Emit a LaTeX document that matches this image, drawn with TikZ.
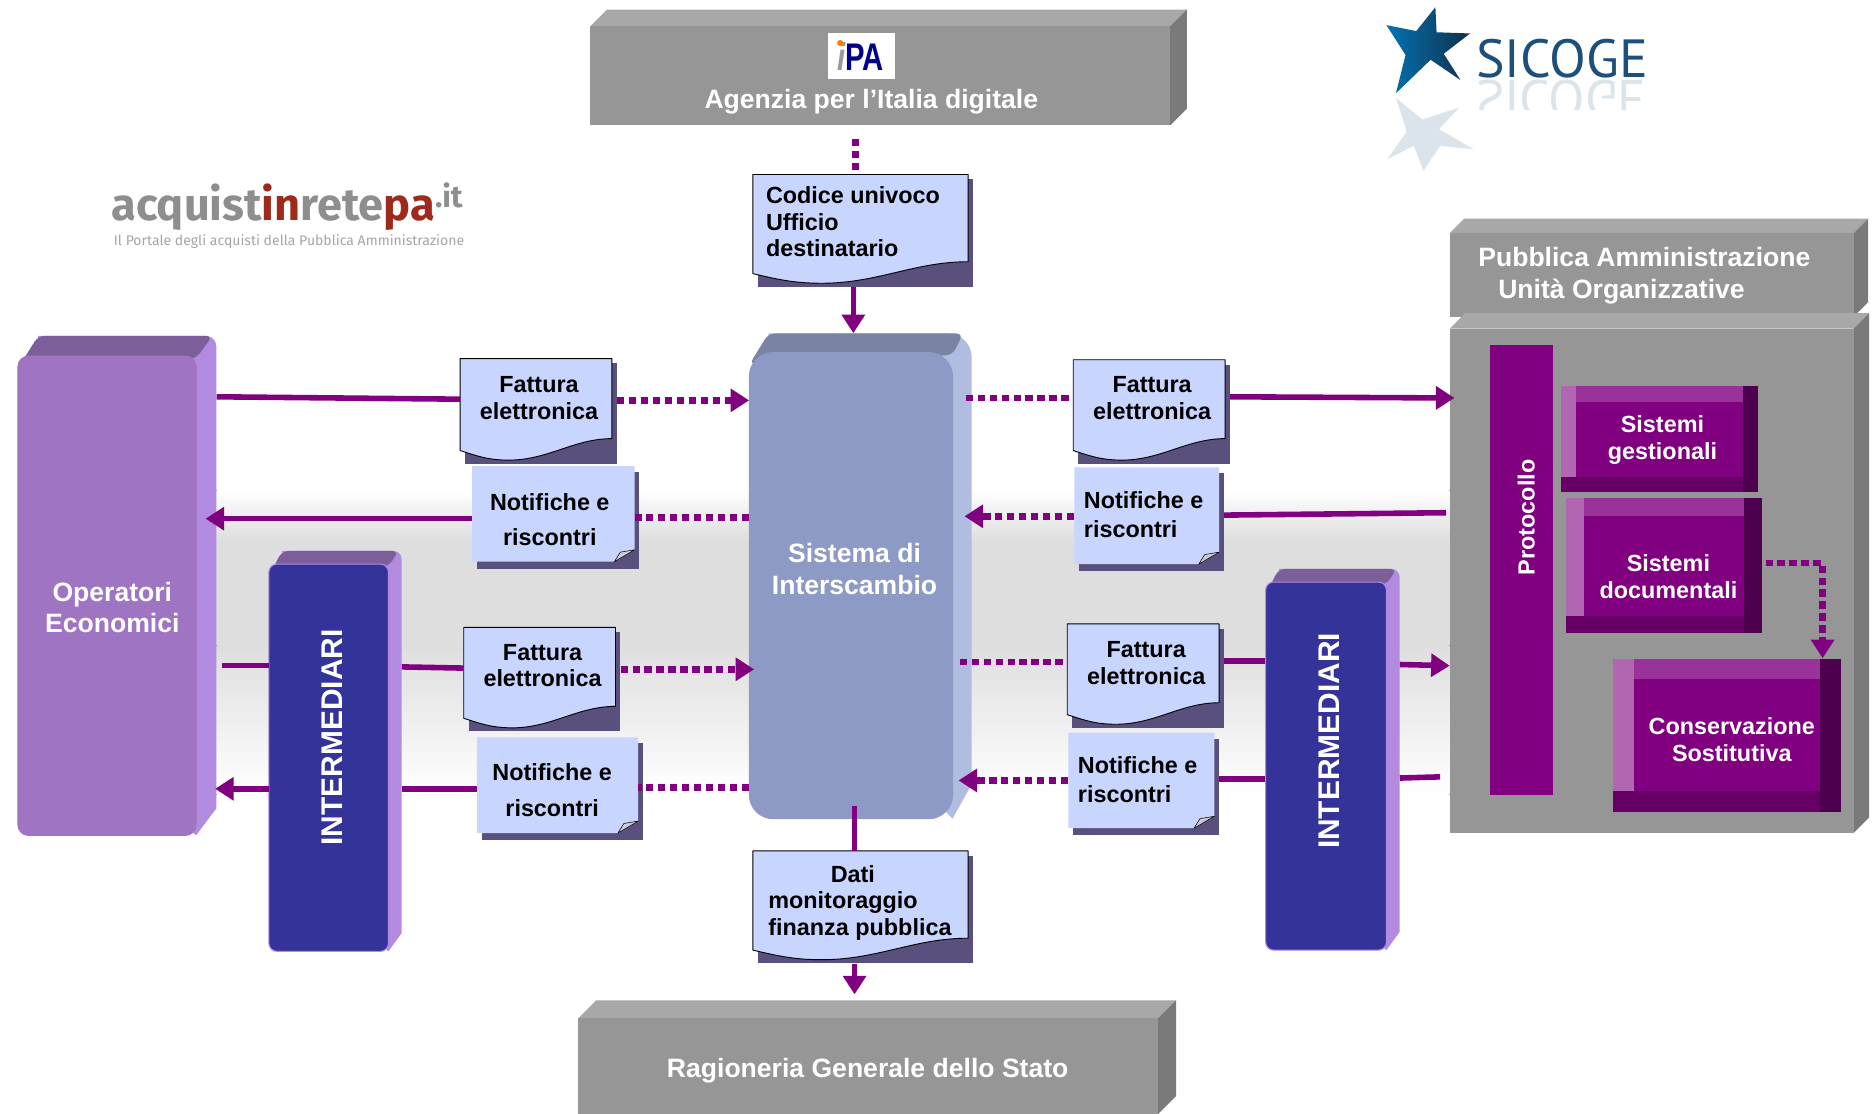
\documentclass[tikz,border=0pt]{standalone}
\usepackage{fontspec}
\setmainfont{Liberation Sans}
\newfontfamily\logofont{Fira Sans}
\newfontfamily\sicogefont{PT Sans}
\usetikzlibrary{arrows.meta}
\usetikzlibrary{fit}

\definecolor{flowpurple}{HTML}{800080}
\definecolor{sheetblue}{HTML}{C8D6FF}
\definecolor{sheetshadow}{HTML}{5A507D}
\definecolor{greyfront}{HTML}{969696}
\definecolor{greytop}{HTML}{A8A8A8}
\definecolor{greyside}{HTML}{7A7A7A}
\definecolor{lilacfront}{HTML}{9F74C3}
\definecolor{lilactop}{HTML}{7C5F9A}
\definecolor{lilacside}{HTML}{B28AE0}
\definecolor{navyfront}{HTML}{333399}
\definecolor{navytop}{HTML}{7C5F9A}
\definecolor{navyside}{HTML}{B28AE0}
\definecolor{sysfront}{HTML}{8C9AC5}
\definecolor{systop}{HTML}{7A83A4}
\definecolor{sysside}{HTML}{B0BDE0}
\definecolor{tierleft}{HTML}{B066B0}
\definecolor{tiertop}{HTML}{993399}
\definecolor{tierright}{HTML}{4D004D}
\definecolor{tierbottom}{HTML}{660066}
\definecolor{logogrey}{HTML}{8E8E8E}
\definecolor{logored}{HTML}{9E2A1C}
\definecolor{sicogeblue}{HTML}{1D4F7A}
\definecolor{sicogeecho}{HTML}{DAE4EA}

\tikzset{
  flow/.style={draw=flowpurple,line width=4.2pt},
  flowdot/.style={flow,line width=5pt,dash pattern=on 5.5pt off 3.5pt},
  whitebig/.style={text=white,align=center,font=\fontsize{20}{23.7}\selectfont\bfseries},
  whitesmall/.style={text=white,align=center,font=\fontsize{17.6}{20.5}\selectfont\bfseries},
  sheettext/.style={text=black,align=center,font=\fontsize{17.6}{20}\selectfont\bfseries},
  frame/.style={inner sep=0pt}
}

% flat block with top and side faces
\newcommand{\greyblock}[6]{
  \fill[greytop] (#2,#3) -- (#2+#6,#3-#6) -- (#4+#6,#3-#6) -- (#4,#3) -- cycle;
  \fill[greyside] (#4,#3) -- (#4+#6,#3-#6) -- (#4+#6,#5-#6) -- (#4,#5) -- cycle;
  \fill[greyfront] (#2,#3) rectangle (#4,#5);
  \node[frame,fit={(#2,#3) (#4,#5)}] (#1) {};
}
% rounded block, #7 colour family, #8 corner radius, #9 front outline
\newcommand{\softblock}[9]{
  \fill[#7side] (#2+#6,#3-#6) [rounded corners=#8pt] -- (#4+#6,#3-#6) [sharp corners] -- (#4+#6,{#5-#6-0.7*#8}) -- (#4,#5) -- (#4-10,#5-10) -- (#2+#6,#3) -- cycle;
  \fill[#7top,rounded corners=5pt] (#2,#3+10) -- (#2+#6,#3-#6) -- ({#4+#6-0.4*#8},#3-#6) -- (#4,#3+2) -- (#2+10,#3+10) -- cycle;
  \filldraw[#7front,draw=#9,line width=0.8pt,rounded corners=#8pt] (#2,#3) rectangle (#4,#5);
  \node[frame,fit={(#2,#3-#6) (#4+#6,#5)}] (#1) {};
}
% bevelled purple panel
\newcommand{\tierblock}[6]{
  \fill[flowpurple] (#2,#3) rectangle (#4,#5);
  \fill[tierleft] (#2,#3) rectangle (#2+#6,#5-#6);
  \fill[tiertop] (#2+#6,#3) rectangle (#4-#6,#3+#6);
  \fill[tierbottom] (#2,#5-#6) rectangle (#4-#6,#5);
  \fill[tierright] (#4-#6,#3) rectangle (#4,#5);
  \node[frame,fit={(#2,#3) (#4,#5)}] (#1) {};
}
% sheet with a wavy lower edge
\newcommand{\wavesheet}[5]{
  \fill[sheetshadow] (#2+4,#3+4) rectangle (#4+4,#5+11);
  \draw[black,line width=0.7pt,fill=sheetblue] (#2,#3) -- (#4,#3) -- (#4,#5-10)
    .. controls ({#4-0.25*(#4-#2)},#5-10) and ({#4-0.42*(#4-#2)},#5+8) .. ({#2+0.32*(#4-#2)},#5+8)
    .. controls ({#2+0.18*(#4-#2)},#5+8) and ({#2+0.1*(#4-#2)},#5+4) .. (#2,#5) -- cycle;
  \node[frame,fit={(#2,#3) (#4,#5+11)}] (#1) {};
}
% sheet with a folded corner
\newcommand{\foldsheet}[5]{
  \fill[sheetshadow] (#2+4,#3+5) rectangle (#4+4,#5+6);
  \fill[sheetblue] (#2,#3) -- (#4,#3) -- (#4,#5-10) -- (#4-17,#5) -- (#2,#5) -- cycle;
  \draw[black,line width=0.4pt,fill=sheetshadow!30!white] (#4,#5-10) -- (#4-12,#5-8) -- (#4-17,#5) -- cycle;
  \node[frame,fit={(#2,#3) (#4,#5+6)}] (#1) {};
}

\begin{document}
\begin{tikzpicture}[line join=round,>={Triangle[length=14pt,width=17pt]},x=0.9pt,y=-0.9pt]
\useasboundingbox (0,0) rectangle (1568,932);

% band behind the flows
\fill[top color=white,bottom color=black!13] (181,410) rectangle (1213,452);
\fill[black!13] (181,452) rectangle (1213,540);
\fill[top color=black!13,bottom color=white] (181,540) rectangle (1213,665);

% logos
\node[frame,anchor=west,text=logogrey,font=\logofont\fontsize{34}{34}\selectfont\bfseries] (portalName) at (93,173)
  {acquist{\color{logored}in}rete{\color{logored}pa}\raisebox{10pt}{\fontsize{23}{23}\selectfont.it}};
\node[frame,anchor=west,text=logogrey!80,font=\logofont\fontsize{10.55}{12}\selectfont] (portalTag) at (95,202)
  {Il Portale degli acquisti della Pubblica Amministrazione};
\fill[sicogeecho] (1221,90) -- (1204,108) -- (1233,125) -- (1205,122) -- (1191,143) -- (1183,122) -- (1161,133) -- (1177,110) -- (1168,82) -- (1190,100) -- cycle;
\shade[left color=blue!35!cyan!70!black,right color=sicogeblue!60!black] (1201,6) -- (1202,27) -- (1230,28) -- (1208,45) -- (1222,67) -- (1197,50) -- (1168,78) -- (1176,46) -- (1160,21) -- (1185,26) -- cycle;
\begin{scope}
\clip (1230,66) rectangle (1385,92);
\node[frame,anchor=west,text=sicogeecho,transform shape,yscale=-1,font=\sicogefont\fontsize{40}{40}\selectfont] (sicogeEcho) at (1235,83) {SICOGE};
\end{scope}
\node[frame,anchor=west,text=sicogeblue,font=\sicogefont\fontsize{40.5}{40}\selectfont] (sicogeName) at (1235,49) {SICOGE};

% grey blocks
\greyblock{agid}{494}{22}{979}{105}{14}
\greyblock{rgs}{484}{852}{969}{932}{15}
\greyblock{paHead}{1213}{195}{1551}{265}{12}
\greyblock{paBody}{1213}{275}{1551}{697}{13}
\node[whitebig] (agidName) at (729,85) {Agenzia per l’Italia digitale};
\node[whitebig] (rgsName) at (726,896) {Ragioneria Generale dello Stato};
\node[whitebig,anchor=west,align=left] (paName) at (1233,230.5) {Pubblica Amministrazione\\\hspace*{15pt}Unità Organizzative};

% iPA mark
\node[frame,fill=white,fit={(693,28) (749,66)}] (ipaLogo) {};
\node[frame,font=\fontsize{29}{29}\selectfont\bfseries] (ipaName) at (720,47)
  {\scalebox{0.76}[1]{{\color{black!40}\itshape i}{\color{blue!55!black}PA}}};
\fill[orange] (703,36) circle (2.6);

% purple panels
\fill[flowpurple] (1247,289) rectangle (1299,665);
\node[frame,fit={(1247,289) (1299,665)}] (protocol) {};
\node[whitesmall,rotate=90] (protocolName) at (1277,433) {Protocollo};
\tierblock{gestional}{1306}{323}{1471}{412}{13}
\tierblock{documental}{1310}{417}{1474}{530}{15}
\tierblock{conserve}{1350}{551}{1540}{679}{17}
\node[whitesmall] (gestionalName) at (1391,368) {Sistemi\\gestionali};
\node[whitesmall] (documentalName) at (1396,482.5) {Sistemi\\documentali};
\node[whitesmall] (conserveName) at (1449,619) {Conservazione\\Sostitutiva};

% rounded blocks
\softblock{operators}{15}{298}{164}{699}{17}{lilac}{8}{lilacfront}
\softblock{brokerL}{225}{472}{325}{796}{11}{navy}{6}{lilacside}
\softblock{brokerR}{1059}{487}{1160}{795}{11}{navy}{6}{lilacside}
\softblock{exchange}{627}{295}{797}{685}{16}{sys}{18}{sysfront}
\node[whitebig] (operatorsName) at (94,508.5) {Operatori\\Economici};
\node[whitebig] (exchangeName) at (715,476) {Sistema di\\Interscambio};
\node[whitebig,rotate=90,font=\fontsize{22.5}{24}\selectfont\bfseries] (brokerLName) at (278,617) {INTERMEDIARI};
\node[whitebig,rotate=90,font=\fontsize{22.5}{24}\selectfont\bfseries] (brokerRName) at (1112,620) {INTERMEDIARI};

% sheets
\wavesheet{code}{630}{146}{810}{229}
\wavesheet{data}{630}{712}{810}{795}
\wavesheet{invoiceTL}{385}{300}{512}{377}
\wavesheet{invoiceML}{388}{525}{515}{601}
\wavesheet{invoiceTR}{898}{301}{1025}{377}
\wavesheet{invoiceMR}{893}{522}{1020}{598}
\foldsheet{noticeTL}{395}{390}{531}{470}
\foldsheet{noticeML}{399}{617}{534}{697}
\foldsheet{noticeTR}{899}{391}{1020}{472}
\foldsheet{noticeMR}{894}{613}{1016}{693}
\node[sheettext,anchor=west,align=left] (codeText) at (637,185.5) {Codice univoco\\Ufficio\\destinatario};
\node[sheettext,anchor=west,align=left] (dataText) at (639,755.5) {\hspace*{47pt}Dati\\[-0.7pt]monitoraggio\\finanza pubblica};
\node[sheettext] (invoiceTLText) at (451,333) {Fattura\\elettronica};
\node[sheettext] (invoiceMLText) at (454,557) {Fattura\\elettronica};
\node[sheettext] (invoiceTRText) at (964,333) {Fattura\\elettronica};
\node[sheettext] (invoiceMRText) at (959,555) {Fattura\\elettronica};
\node[sheettext] (noticeTLText) at (460,435) {Notifiche e\\[6.7pt]riscontri};
\node[sheettext] (noticeMLText) at (462,661) {Notifiche e\\[6.7pt]riscontri};
\node[sheettext,anchor=west,align=left] (noticeTRText) at (903,430.5) {Notifiche e\\[1.6pt]riscontri};
\node[sheettext,anchor=west,align=left] (noticeMRText) at (898,652.5) {Notifiche e\\[1.6pt]riscontri};

% free ends of the flows
\coordinate (backL) at (172,434);
\coordinate (backLM) at (180,660);
\coordinate (inPA) at (1217,333);
\coordinate (inPAM) at (1213,557);
\coordinate (offPA) at (1210,429);
\coordinate (offPAM) at (1205,650);
\coordinate (underAgid) at (716,116);
\coordinate (aboveRgs) at (715,832);
\coordinate (inExchange) at (715,674);

% left flows
\draw[flow] (operators.east |- 0,332) -- (invoiceTL.west |- 0,334);
\draw[flowdot,->] (invoiceTL.east |- 0,335) ++(4,0) -- (exchange.west |- 0,335);
\draw[flow,->] (noticeTL.west |- 0,434) -- (backL);
\draw[flowdot] (exchange.west |- 0,433) -- (noticeTL.east |- 0,433);
\draw[flow] (186,557) -- (brokerL.west |- 0,557);
\draw[flow] (brokerL.east |- 0,558) -- (invoiceML.west |- 0,559);
\draw[flowdot,->] (invoiceML.east |- 0,560) ++(4,0) -- (631,560);
\draw[flow] (noticeML.west |- 0,660) -- (brokerL.east |- 0,660);
\draw[flow,->] (brokerL.west |- 0,660) -- (backLM);
\draw[flowdot] (exchange.west |- 0,659) -- (noticeML.east |- 0,659);

% right flows
\draw[flowdot] (808,333) -- (invoiceTR.west |- 0,333);
\draw[flow,->] (invoiceTR.east |- 0,332) ++(4,0) -- (inPA);
\draw[flowdot,->] (noticeTR.west |- 0,432) -- (807,432);
\draw[flow] (noticeTR.east |- 0,431) ++(4,0) -- (offPA);
\draw[flowdot] (803,554) -- (invoiceMR.west |- 0,554);
\draw[flow] (invoiceMR.east |- 0,553) ++(4,0) -- (brokerR.west |- 0,553);
\draw[flow,->] (brokerR.east |- 0,556) -- (inPAM);
\draw[flowdot,->] (noticeMR.west |- 0,653) -- (802,653);
\draw[flow] (noticeMR.east |- 0,652) ++(4,0) -- (brokerR.west |- 0,652);
\draw[flow] (brokerR.east |- 0,651) -- (offPAM);

% vertical flows
\draw[flowdot] (underAgid) -- (code.north -| 716,0);
\draw[flow,->] (code.south -| 714,0) -- (exchange.north -| 714,0);
\draw[flow] (inExchange) -- (data.north -| 715,0);
\draw[flow,->] (data.south -| 715,0) -- (aboveRgs);
\draw[flowdot,->] (documental.east |- 0,471) ++(3,0) -| (conserve.north -| 1525,0);
\end{tikzpicture}
\end{document}
